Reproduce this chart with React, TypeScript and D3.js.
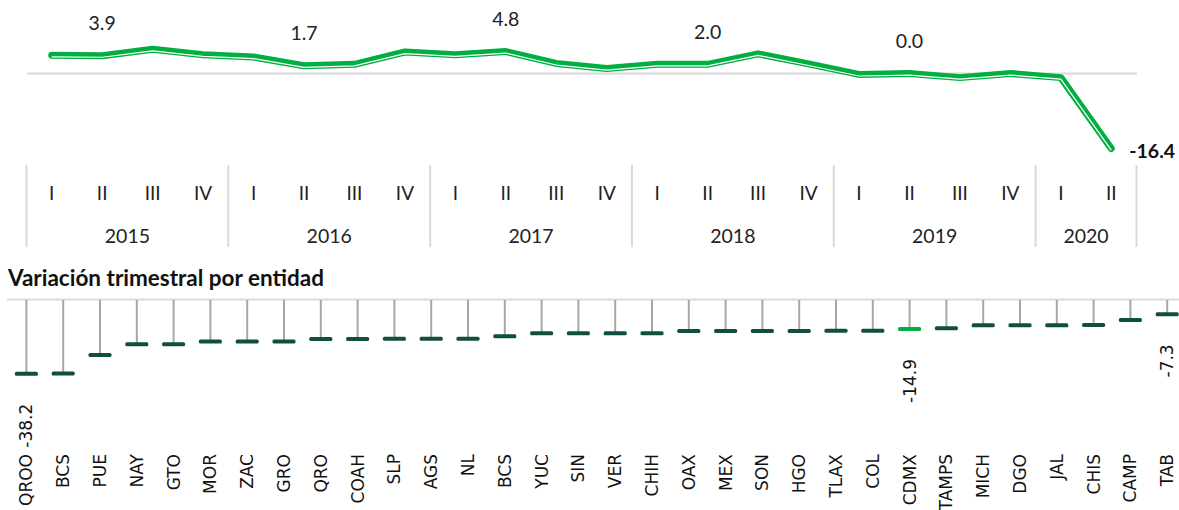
import React from 'react';
import * as d3 from 'd3';

const width = 1179;
const height = 510;

// top chart: quarterly variation, 2015-I .. 2020-II
const years = ['2015', '2016', '2017', '2018', '2019', '2020'];
const quarters = ['I', 'II', 'III', 'IV'];
const quarterValues = [
  4.0, 3.9, 5.3, 4.1,
  3.6, 1.7, 2.0, 4.7,
  4.1, 4.8, 2.2, 1.1,
  2.0, 2.0, 4.3, 2.1,
  -0.2, 0.0, -0.9, 0.0,
  -0.9, -16.4,
];
const labelledValues = ['3.9', '1.7', '4.8', '2.0', '0.0'];
const lastLabel = '-16.4';

// bottom chart: variation by state
const states = [
  'QROO', 'BCS', 'PUE', 'NAY', 'GTO', 'MOR', 'ZAC', 'GRO', 'QRO', 'COAH', 'SLP',
  'AGS', 'NL', 'BCS', 'YUC', 'SIN', 'VER', 'CHIH', 'OAX', 'MEX', 'SON', 'HGO',
  'TLAX', 'COL', 'CDMX', 'TAMPS', 'MICH', 'DGO', 'JAL', 'CHIS', 'CAMP', 'TAB',
];
const stateValues = [
  -38.2, -38.1, -28.5, -22.9, -22.9, -21.5, -21.5, -21.4, -20.1, -20.1, -20.0,
  -20.0, -20.0, -18.7, -17.2, -17.2, -17.2, -17.1, -16.0, -16.0, -16.0, -16.0,
  -15.9, -15.9, -14.9, -14.6, -13.0, -13.0, -13.0, -12.9, -10.2, -7.3,
];
const stateValueLabels = ['-38.2', '-14.9', '-7.3'];
const labelledStates = [0, 24, 31];
const highlight = 'CDMX';

const green = '#00ae42';
const dark = '#0f4f41';
const sans = 'Lato, sans-serif';
const dejavu = '"DejaVu Sans", sans-serif';

const periods = years.flatMap(y => quarters.map(q => `${y}-${q}`)).slice(0, quarterValues.length);

const App = () => {
  const x = d3.scaleBand<string>().domain(periods).range([26.5, 1136.5]);
  const cx = (p: string) => (x(p) as number) + x.bandwidth() / 2;
  const y = d3.scaleLinear().domain([-16.4, 0]).range([148.5, 73.5]);

  const line = d3.line<number>()
    .x((d, i) => cx(periods[i]))
    .y(d => y(d));
  const path = line(quarterValues) as string;

  // year separators
  const seps = years.map(yr => x(`${yr}-I`) as number).concat([x.range()[1]]);

  const xs = d3.scaleBand<number>().domain(d3.range(states.length)).range([8, 1185.6]);
  const sx = (i: number) => (xs(i) as number) + xs.bandwidth() / 2;
  const ys = d3.scaleLinear().domain([-38.2, 0]).range([373.7, 300.3]);
  const last = quarterValues.length - 1;

  return (
    <svg width={width} height={height} style={{ position: 'absolute', left: 0, top: 0, background: '#fff' }}>
      {/* top chart */}
      <line x1={27} x2={1137} y1={y(0)} y2={y(0)} stroke="#d9d9d9" strokeWidth={2} />
      <path d={path} fill="none" stroke={green} strokeWidth={7} strokeLinejoin="round" strokeLinecap="round" />
      <path d={path} fill="none" stroke="#fff" strokeWidth={1.2} strokeLinejoin="round" transform="translate(0,1.6)" />
      {labelledValues.map((lab, i) => {
        const p = `${years[i]}-II`;
        return (
          <text key={p} x={cx(p)} y={y(quarterValues[periods.indexOf(p)]) - 33} textAnchor="middle"
            dominantBaseline="central" fontFamily={sans} fontSize={19.5} fill="#222">{lab}</text>
        );
      })}
      <text x={cx(periods[last]) + 18} y={y(quarterValues[last]) + 2} dominantBaseline="central"
        fontFamily={sans} fontSize={19.5} fontWeight="bold" fill="#111">{lastLabel}</text>

      {seps.map((s, i) => (
        <line key={i} x1={s} x2={s} y1={165} y2={247} stroke="#d9d9d9" strokeWidth={2} />
      ))}
      {periods.map((p, i) => (
        <text key={p} x={cx(p)} y={192} textAnchor="middle" dominantBaseline="central"
          fontFamily={sans} fontSize={19} fill="#222">{quarters[i % 4]}</text>
      ))}
      {years.map((yr, i) => {
        const a = seps[i];
        const b = seps[i + 1];
        return (
          <text key={yr} x={(a + b) / 2} y={235} textAnchor="middle" dominantBaseline="central"
            fontFamily={sans} fontSize={19.5} fill="#222">{yr}</text>
        );
      })}

      <text x={8} y={277} dominantBaseline="central" fontFamily={sans} fontSize={22.5} fontWeight="bold" fill="#111">
        Variación trimestral por entidad
      </text>

      {/* bottom chart */}
      <line x1={7} x2={width} y1={299.5} y2={299.5} stroke="#dcdcdc" strokeWidth={2} />
      {states.map((s, i) => (
        <g key={i}>
          <line x1={sx(i)} x2={sx(i)} y1={300} y2={ys(stateValues[i])} stroke="#a6a6a6" strokeWidth={2} />
          <rect x={sx(i) - 11.5} y={ys(stateValues[i]) - 2} width={23} height={4} rx={1.5}
            fill={s === highlight ? green : dark} />
          <text transform={`translate(${sx(i) + 6},454) rotate(-90)`} textAnchor="end"
            fontFamily={dejavu} fontSize={17} fill="#111">{s}</text>
        </g>
      ))}
      {labelledStates.map((idx, k) => (
        <text key={idx} transform={`translate(${sx(idx) + 6},${ys(stateValues[idx]) + 30}) rotate(-90)`}
          textAnchor="end" fontFamily={dejavu} fontSize={17} fill="#111">{stateValueLabels[k]}</text>
      ))}
    </svg>
  );
};

export default App;
